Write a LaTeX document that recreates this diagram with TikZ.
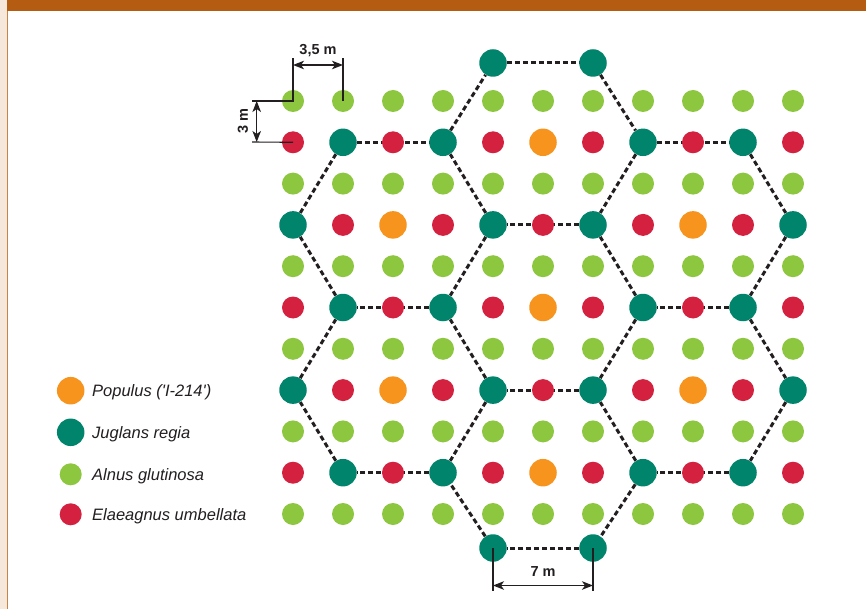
\documentclass[tikz,border=0pt]{standalone}
\usepackage{fontspec}
\setmainfont{Liberation Sans}
\usetikzlibrary{arrows.meta}

\definecolor{alnus}{HTML}{8DC63F}
\definecolor{elaeagnus}{HTML}{D4213F}
\definecolor{populus}{HTML}{F7941E}
\definecolor{juglans}{HTML}{00846C}
\definecolor{barorange}{HTML}{B35C12}
\definecolor{sidebeige}{HTML}{F6E8DB}
\definecolor{siderim}{HTML}{C78445}
\definecolor{inkdark}{HTML}{231F20}

\pgfdeclarelayer{bg}
\pgfsetlayers{bg,main}

\tikzset{
  tree/.style={circle, inner sep=0pt, draw=none},
  treeG/.style={tree, fill=alnus, minimum size=22pt},
  treeE/.style={tree, fill=elaeagnus, minimum size=22pt},
  treeP/.style={tree, fill=populus, minimum size=27.5pt},
  treeJ/.style={tree, fill=juglans, minimum size=27.5pt},
  hexedge/.style={draw=inkdark, line width=3pt, dash pattern=on 5pt off 3pt},
  dimline/.style={draw=inkdark, line width=1.1pt},
  dimarrow/.style={draw=inkdark, line width=1.4pt,
    {Stealth[length=11pt,width=8.5pt,inset=3pt]}-{Stealth[length=11pt,width=8.5pt,inset=3pt]}},
  dimlabel/.style={font=\fontsize{14.5}{16}\selectfont\bfseries, text=inkdark, inner sep=0pt},
  legendtext/.style={font=\fontsize{16.5}{19}\selectfont\itshape, text=inkdark, inner sep=0pt, anchor=base west}
}

\begin{document}
\begin{tikzpicture}[x=1pt, y=-1pt]
  \useasboundingbox (0,0) rectangle (866,609);

  % planting grid
  \foreach \r in {0,2,4,6,8,10} {
    \foreach \c in {0,...,10}
      \node[treeG] (n-\r-\c) at ({293+50*\c},{101+41.3*\r}) {};
  }
  \foreach \r in {1,5,9} {
    \foreach \t [count=\c from 0] in {E,J,E,J,E,P,E,J,E,J,E}
      \node[tree\t] (n-\r-\c) at ({293+50*\c},{101+41.3*\r}) {};
  }
  \foreach \r in {3,7} {
    \foreach \t [count=\c from 0] in {J,E,P,E,J,E,J,E,P,E,J}
      \node[tree\t] (n-\r-\c) at ({293+50*\c},{101+41.3*\r}) {};
  }
  \node[treeJ] (jt1) at (493,63) {};
  \node[treeJ] (jt2) at (593,63) {};
  \node[treeJ] (jb1) at (493,548) {};
  \node[treeJ] (jb2) at (593,548) {};

  \begin{pgfonlayer}{bg}
    % page frame: side strip, rim and header bar
    \fill[white] (0,0) rectangle (866,609);
    \fill[sidebeige] (0,0) rectangle (7.3,609);
    \fill[siderim] (7.3,11) rectangle (8.4,609);
    \fill[barorange] (7.3,0) rectangle (866,11);
    % honeycomb of walnut trees
    \foreach \a/\b in {
      jt1/jt2, jt2/n-1-7, n-1-7/n-3-6, n-3-6/n-3-4, n-3-4/n-1-3, n-1-3/jt1,
      n-1-1/n-1-3, n-3-4/n-5-3, n-5-3/n-5-1, n-5-1/n-3-0, n-3-0/n-1-1,
      n-1-7/n-1-9, n-1-9/n-3-10, n-3-10/n-5-9, n-5-9/n-5-7, n-5-7/n-3-6,
      n-5-7/n-7-6, n-7-6/n-7-4, n-7-4/n-5-3,
      n-7-4/n-9-3, n-9-3/n-9-1, n-9-1/n-7-0, n-7-0/n-5-1,
      n-5-9/n-7-10, n-7-10/n-9-9, n-9-9/n-9-7, n-9-7/n-7-6,
      n-9-7/jb2, jb2/jb1, jb1/n-9-3}
      \draw[hexedge] (\a) -- (\b);
  \end{pgfonlayer}

  % dimension: 3,5 m and 3 m
  \coordinate (e35l) at (293,58);
  \coordinate (e35r) at (343,58);
  \coordinate (a35l) at (293,65);
  \coordinate (a35r) at (343,65);
  \coordinate (e3t) at (252,101);
  \coordinate (e3b) at (252,142);
  \coordinate (a3t) at (256.7,101);
  \coordinate (a3b) at (256.7,142);
  \draw[dimline] (e3t) -- (n-0-0.center) -- (e35l);
  \draw[dimline] (n-0-1.center) -- (e35r);
  \draw[dimline] (e3b) -- (n-1-0.center);
  \draw[dimarrow] (a35l) -- (a35r);
  \draw[dimarrow] (a3t) -- (a3b);
  \node[dimlabel] (l35) at (318,51) {3,5 m};
  \node[dimlabel, rotate=90] (l3) at (243,121.5) {3 m};

  % dimension: 7 m
  \coordinate (e7l) at (493,591);
  \coordinate (e7r) at (593,591);
  \coordinate (a7l) at (493,585.5);
  \coordinate (a7r) at (593,585.5);
  \draw[dimline] (jb1.center) -- (e7l);
  \draw[dimline] (jb2.center) -- (e7r);
  \draw[dimarrow] (a7l) -- (a7r);
  \node[dimlabel] (l7) at (543,572) {7 m};

  % legend
  \node[treeP] (kp) at (70.7,390.7) {};
  \node[treeJ] (kj) at (70.7,432.3) {};
  \node[treeG] (kg) at (70.7,474.3) {};
  \node[treeE] (ke) at (70.7,514.3) {};
  \node[legendtext] (tp) at (92,396.5) {Populus (\textquotesingle I-214\textquotesingle)};
  \node[legendtext] (tj) at (92,438) {Juglans regia};
  \node[legendtext] (tg) at (92,480) {Alnus glutinosa};
  \node[legendtext] (te) at (92,520) {Elaeagnus umbellata};
\end{tikzpicture}
\end{document}
